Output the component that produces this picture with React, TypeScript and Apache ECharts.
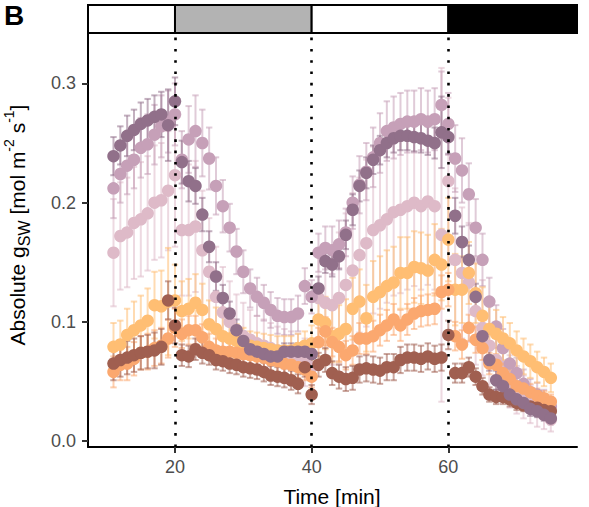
import React, { useEffect, useRef } from "react";
import * as echarts from "echarts";

// ---- data ----
const minutes = [
  11, 12, 13, 14, 15, 16, 17, 18, 19, 20,
  21, 22, 23, 24, 25, 26, 27, 28, 29, 30,
  31, 32, 33, 34, 35, 36, 37, 38, 39, 40,
  41, 42, 43, 44, 45, 46, 47, 48, 49, 50,
  51, 52, 53, 54, 55, 56, 57, 58, 59, 60,
  61, 62, 63, 64, 65, 66, 67, 68, 69, 70,
  71, 72, 73, 74, 75,
];

const darkPurple = [
  0.239, 0.248, 0.256, 0.261, 0.266, 0.269, 0.272, 0.274, 0.265, 0.285,
  0.234, 0.218, 0.214, 0.190, 0.163, 0.138, 0.120, 0.107, 0.093, 0.084,
  0.077, 0.075, 0.073, 0.071, 0.071, 0.075, 0.075, 0.075, 0.075, 0.073,
  0.128, 0.151, 0.148, 0.155, 0.173, 0.194, 0.214, 0.225, 0.236, 0.244,
  0.250, 0.254, 0.256, 0.256, 0.255, 0.254, 0.252, 0.250, 0.259, 0.255,
  0.189, 0.167, 0.152, 0.121, 0.088, 0.068, 0.051, 0.046, 0.039, 0.035,
  0.032, 0.027, 0.025, 0.022, 0.019,
];
const darkPurpleErr = [
  0.016, 0.016, 0.017, 0.017, 0.018, 0.018, 0.018, 0.019, 0.030, 0.020,
  0.018, 0.017, 0.015, 0.014, 0.013, 0.012, 0.011, 0.010, 0.009, 0.008,
  0.008, 0.007, 0.007, 0.007, 0.007, 0.007, 0.007, 0.007, 0.007, 0.008,
  0.010, 0.010, 0.010, 0.011, 0.012, 0.013, 0.013, 0.013, 0.012, 0.012,
  0.012, 0.012, 0.012, 0.012, 0.012, 0.012, 0.012, 0.013, 0.030, 0.014,
  0.015, 0.013, 0.012, 0.011, 0.010, 0.009, 0.008, 0.007, 0.007, 0.006,
  0.006, 0.006, 0.005, 0.005, 0.005,
];

const mauve = [
  0.212, 0.224, 0.231, 0.236, 0.246, 0.249, 0.257, 0.264, 0.268, 0.274,
  0.236, 0.253, 0.260, 0.250, 0.237, 0.214, 0.197, 0.179, 0.159, 0.142,
  0.128, 0.121, 0.116, 0.110, 0.105, 0.104, 0.104, 0.107, 0.130, 0.121,
  0.158, 0.162, 0.160, 0.165, 0.175, 0.200, 0.215, 0.226, 0.238, 0.250,
  0.260, 0.263, 0.266, 0.268, 0.268, 0.270, 0.268, 0.270, 0.282, 0.266,
  0.237, 0.227, 0.207, 0.179, 0.152, 0.117, 0.096, 0.078, 0.065, 0.057,
  0.048, 0.041, 0.039, 0.034, 0.029,
];
const mauveErr = [
  0.025, 0.024, 0.024, 0.024, 0.025, 0.025, 0.025, 0.026, 0.026, 0.026,
  0.024, 0.028, 0.030, 0.028, 0.026, 0.024, 0.022, 0.020, 0.019, 0.018,
  0.016, 0.016, 0.015, 0.015, 0.015, 0.015, 0.015, 0.015, 0.015, 0.014,
  0.016, 0.018, 0.020, 0.020, 0.020, 0.022, 0.024, 0.024, 0.025, 0.025,
  0.025, 0.026, 0.026, 0.026, 0.026, 0.026, 0.026, 0.026, 0.028, 0.026,
  0.028, 0.027, 0.026, 0.024, 0.022, 0.020, 0.018, 0.016, 0.014, 0.013,
  0.012, 0.011, 0.010, 0.009, 0.008,
];

const lightPink = [
  0.158, 0.172, 0.175, 0.183, 0.186, 0.191, 0.200, 0.202, 0.210, 0.223,
  0.177, 0.177, 0.180, 0.160, 0.142, 0.121, 0.108, 0.100, 0.093, 0.088,
  0.085, 0.082, 0.080, 0.078, 0.076, 0.074, 0.072, 0.070, 0.066, 0.062,
  0.120, 0.116, 0.114, 0.120, 0.131, 0.143, 0.156, 0.166, 0.177, 0.181,
  0.186, 0.192, 0.194, 0.197, 0.200, 0.197, 0.201, 0.197, 0.173, 0.218,
  0.152, 0.141, 0.133, 0.109, 0.095, 0.080, 0.068, 0.058, 0.050, 0.043,
  0.037, 0.031, 0.026, 0.022, 0.018,
];
const lightPinkErr = [
  0.045, 0.045, 0.046, 0.047, 0.048, 0.048, 0.048, 0.048, 0.050, 0.060,
  0.055, 0.055, 0.055, 0.050, 0.045, 0.042, 0.038, 0.034, 0.030, 0.028,
  0.025, 0.023, 0.022, 0.021, 0.020, 0.020, 0.020, 0.020, 0.020, 0.020,
  0.040, 0.045, 0.050, 0.055, 0.060, 0.065, 0.065, 0.070, 0.070, 0.070,
  0.070, 0.070, 0.070, 0.070, 0.070, 0.070, 0.070, 0.070, 0.140, 0.070,
  0.060, 0.055, 0.050, 0.045, 0.040, 0.035, 0.030, 0.025, 0.022, 0.020,
  0.018, 0.016, 0.014, 0.012, 0.010,
];

const lightOrange = [
  0.079, 0.081, 0.089, 0.093, 0.097, 0.101, 0.114, 0.113, 0.117, 0.118,
  0.109, 0.111, 0.116, 0.110, 0.098, 0.094, 0.088, 0.086, 0.084, 0.082,
  0.080, 0.079, 0.078, 0.077, 0.076, 0.076, 0.076, 0.078, 0.080, 0.082,
  0.102, 0.099, 0.088, 0.090, 0.094, 0.111, 0.117, 0.103, 0.121, 0.125,
  0.130, 0.133, 0.141, 0.141, 0.146, 0.145, 0.143, 0.152, 0.148, 0.169,
  0.127, 0.127, 0.141, 0.124, 0.105, 0.094, 0.090, 0.086, 0.082, 0.076,
  0.071, 0.067, 0.062, 0.058, 0.053,
];
const lightOrangeErr = [
  0.020, 0.020, 0.022, 0.024, 0.025, 0.027, 0.028, 0.030, 0.045, 0.030,
  0.025, 0.025, 0.024, 0.022, 0.020, 0.018, 0.016, 0.015, 0.014, 0.013,
  0.012, 0.012, 0.012, 0.012, 0.012, 0.012, 0.012, 0.012, 0.012, 0.015,
  0.020, 0.022, 0.022, 0.024, 0.025, 0.026, 0.027, 0.028, 0.030, 0.030,
  0.030, 0.030, 0.030, 0.030, 0.030, 0.030, 0.030, 0.030, 0.030, 0.035,
  0.030, 0.028, 0.026, 0.025, 0.024, 0.022, 0.020, 0.018, 0.017, 0.016,
  0.015, 0.014, 0.013, 0.012, 0.012,
];

const orange = [
  0.058, 0.064, 0.065, 0.069, 0.074, 0.075, 0.078, 0.080, 0.086, 0.095,
  0.090, 0.093, 0.093, 0.087, 0.079, 0.076, 0.075, 0.075, 0.074, 0.073,
  0.072, 0.071, 0.070, 0.068, 0.067, 0.065, 0.064, 0.062, 0.060, 0.054,
  0.083, 0.092, 0.083, 0.079, 0.072, 0.076, 0.086, 0.086, 0.088, 0.093,
  0.097, 0.102, 0.097, 0.102, 0.107, 0.109, 0.110, 0.111, 0.125, 0.127,
  0.088, 0.081, 0.095, 0.085, 0.078, 0.065, 0.064, 0.057, 0.052, 0.046,
  0.044, 0.041, 0.038, 0.036, 0.033,
];
const orangeErr = [
  0.013, 0.013, 0.014, 0.014, 0.014, 0.015, 0.015, 0.015, 0.016, 0.016,
  0.012, 0.012, 0.012, 0.011, 0.011, 0.010, 0.010, 0.010, 0.010, 0.010,
  0.009, 0.009, 0.009, 0.009, 0.009, 0.009, 0.009, 0.009, 0.009, 0.009,
  0.012, 0.012, 0.012, 0.012, 0.012, 0.012, 0.013, 0.013, 0.013, 0.013,
  0.013, 0.013, 0.013, 0.013, 0.013, 0.013, 0.013, 0.013, 0.014, 0.014,
  0.012, 0.012, 0.011, 0.011, 0.010, 0.009, 0.009, 0.008, 0.008, 0.007,
  0.007, 0.007, 0.006, 0.006, 0.006,
];

const brown = [
  0.065, 0.068, 0.070, 0.072, 0.074, 0.075, 0.076, 0.079, 0.118, 0.097,
  0.072, 0.071, 0.077, 0.074, 0.072, 0.068, 0.067, 0.065, 0.064, 0.062,
  0.061, 0.060, 0.058, 0.055, 0.054, 0.053, 0.051, 0.048, 0.062, 0.039,
  0.064, 0.068, 0.057, 0.054, 0.052, 0.053, 0.060, 0.061, 0.060, 0.059,
  0.062, 0.062, 0.068, 0.070, 0.070, 0.069, 0.071, 0.069, 0.070, 0.089,
  0.057, 0.057, 0.062, 0.054, 0.046, 0.039, 0.037, 0.037, 0.035, 0.032,
  0.030, 0.029, 0.028, 0.026, 0.025,
];
const brownErr = [
  0.014, 0.014, 0.014, 0.014, 0.014, 0.014, 0.015, 0.015, 0.016, 0.015,
  0.009, 0.009, 0.009, 0.009, 0.008, 0.008, 0.008, 0.008, 0.008, 0.008,
  0.008, 0.008, 0.008, 0.008, 0.008, 0.008, 0.008, 0.008, 0.008, 0.008,
  0.010, 0.010, 0.010, 0.010, 0.010, 0.010, 0.011, 0.011, 0.011, 0.011,
  0.011, 0.011, 0.011, 0.011, 0.011, 0.011, 0.011, 0.011, 0.011, 0.012,
  0.008, 0.008, 0.008, 0.007, 0.007, 0.006, 0.006, 0.006, 0.006, 0.006,
  0.005, 0.005, 0.005, 0.005, 0.005,
];

// light regime changes (minutes) and the regime of each segment
const phaseBoundaries = [20, 40, 60];
const phaseRegimes = ["light", "shade", "light", "dark"];

const yTicks = [0, 0.1, 0.2, 0.3];
const xTicks = [20, 40, 60];

// ---- styling ----
const X_MIN = 7.27;
const X_MAX = 78.83;
const Y_MIN = -0.005;
const Y_MAX = 0.3423;
const FONT = "'Liberation Sans', Arial, Helvetica, sans-serif";
const regimeFill: Record<string, string> = {
  light: "#FFFFFF",
  shade: "#B3B3B3",
  dark: "#000000",
};

// drawing order: later groups are drawn on top
const groups = [
  { name: "g3", vals: lightPink, errs: lightPinkErr, color: "#DEBAC8", bar: "rgba(222,186,200,0.55)" },
  { name: "g2", vals: mauve, errs: mauveErr, color: "#C6A0B8", bar: "rgba(198,160,184,0.55)" },
  { name: "g4", vals: lightOrange, errs: lightOrangeErr, color: "#FFBE73", bar: "rgba(255,190,115,0.55)" },
  { name: "g5", vals: orange, errs: orangeErr, color: "#FBA86F", bar: "rgba(251,168,111,0.55)" },
  { name: "g6", vals: brown, errs: brownErr, color: "#A05F50", bar: "rgba(160,95,80,0.55)" },
  { name: "g1", vals: darkPurple, errs: darkPurpleErr, color: "#91708A", bar: "rgba(145,112,138,0.55)" },
];

function buildOption() {
  const errSeries = groups.map((g) => ({
    type: "custom",
    name: g.name + "-err",
    xAxisIndex: 0,
    yAxisIndex: 0,
    z: 2,
    silent: true,
    data: minutes.map((m, i) => [m, g.vals[i] - g.errs[i], g.vals[i] + g.errs[i]]),
    encode: { x: 0, y: [1, 2] },
    renderItem: (_params: any, api: any) => {
      const x = api.value(0);
      const lo = api.coord([x, api.value(1)]);
      const hi = api.coord([x, api.value(2)]);
      const hw = 3.2;
      const style = { stroke: g.bar, lineWidth: 2, fill: "none" };
      return {
        type: "group",
        children: [
          { type: "line", shape: { x1: lo[0], y1: lo[1], x2: hi[0], y2: hi[1] }, style },
          { type: "line", shape: { x1: lo[0] - hw, y1: lo[1], x2: lo[0] + hw, y2: lo[1] }, style },
          { type: "line", shape: { x1: hi[0] - hw, y1: hi[1], x2: hi[0] + hw, y2: hi[1] }, style },
        ],
      };
    },
  }));

  const pointSeries = groups.map((g, idx) => ({
    type: "scatter",
    name: g.name,
    xAxisIndex: 0,
    yAxisIndex: 0,
    z: 3,
    symbol: "circle",
    symbolSize: 12.5,
    itemStyle: { color: g.color, opacity: 1 },
    data: minutes.map((m, i) => [m, g.vals[i]]),
    markLine:
      idx === groups.length - 1
        ? {
            silent: true,
            symbol: "none",
            z: 10,
            label: { show: false },
            lineStyle: { color: "#000", type: [2.6, 8.7], width: 2.6, cap: "butt" },
            data: phaseBoundaries.map((b) => ({ xAxis: b })),
          }
        : undefined,
  }));

  const starts = [X_MIN, ...phaseBoundaries];
  const ends = [...phaseBoundaries, X_MAX];
  const phaseSeries = {
    type: "custom",
    name: "regime",
    xAxisIndex: 1,
    yAxisIndex: 1,
    silent: true,
    data: phaseRegimes.map((r, i) => [starts[i], ends[i], r]),
    encode: { x: [0, 1] },
    renderItem: (_params: any, api: any) => {
      const a = api.coord([api.value(0), 1]);
      const b = api.coord([api.value(1), 0]);
      const regime = phaseRegimes[_params.dataIndex];
      return {
        type: "rect",
        shape: { x: a[0], y: a[1], width: b[0] - a[0], height: b[1] - a[1] },
        style: { fill: regimeFill[regime], stroke: "#000", lineWidth: 2 },
      };
    },
  };

  return {
    animation: false,
    backgroundColor: "#FFFFFF",
    textStyle: { fontFamily: FONT },
    grid: [
      { left: 88, right: 12, top: 33, bottom: 60, containLabel: false },
      { left: 88, right: 12, top: 5, height: 28, containLabel: false },
    ],
    xAxis: [
      {
        type: "value",
        gridIndex: 0,
        min: X_MIN,
        max: X_MAX,
        axisLine: { show: true, onZero: false, lineStyle: { color: "#000", width: 2 } },
        axisTick: { show: true, length: 6, customValues: xTicks, lineStyle: { color: "#333", width: 2 } },
        axisLabel: {
          show: true,
          customValues: xTicks,
          margin: 11,
          color: "#4D4D4D",
          fontSize: 18,
          fontFamily: FONT,
        },
        splitLine: { show: false },
      },
      {
        type: "value",
        gridIndex: 1,
        min: X_MIN,
        max: X_MAX,
        show: false,
      },
    ],
    yAxis: [
      {
        type: "value",
        gridIndex: 0,
        min: Y_MIN,
        max: Y_MAX,
        axisLine: { show: true, onZero: false, lineStyle: { color: "#000", width: 2 } },
        axisTick: { show: true, length: 6, customValues: yTicks, lineStyle: { color: "#333", width: 2 } },
        axisLabel: {
          show: true,
          customValues: yTicks,
          margin: 12,
          color: "#4D4D4D",
          fontSize: 18,
          fontFamily: FONT,
          formatter: (v: number) => v.toFixed(1),
        },
        splitLine: { show: false },
      },
      { type: "value", gridIndex: 1, min: 0, max: 1, show: false },
    ],
    graphic: [
      {
        type: "text",
        left: 4,
        top: 1,
        style: { text: "B", fontSize: 28, fontWeight: "bold", fontFamily: FONT, fill: "#000" },
      },
      {
        type: "text",
        x: 332,
        y: 496,
        style: {
          text: "Time [min]",
          fontSize: 21,
          fontFamily: FONT,
          fill: "#000",
          align: "center",
          verticalAlign: "middle",
        },
      },
      {
        type: "text",
        x: 17,
        y: 225,
        rotation: Math.PI / 2,
        style: {
          text: "Absolute g{sub|SW} [mol m{sup|-2} s{sup|-1}]",
          fontSize: 21,
          lineHeight: 30,
          fontFamily: FONT,
          fill: "#000",
          align: "center",
          verticalAlign: "middle",
          rich: {
            sub: { fontSize: 16, lineHeight: 18, verticalAlign: "bottom", fontFamily: FONT, fill: "#000" },
            sup: { fontSize: 14, lineHeight: 14, verticalAlign: "top", fontFamily: FONT, fill: "#000" },
          },
        },
      },
    ],
    series: [phaseSeries, ...errSeries, ...pointSeries],
  };
}

export default function App() {
  const ref = useRef<HTMLDivElement>(null);
  useEffect(() => {
    if (!ref.current) return;
    const chart = echarts.init(ref.current, null, { renderer: "svg" });
    chart.setOption(buildOption() as any);
    return () => chart.dispose();
  }, []);
  return (
    <div
      ref={ref}
      style={{ position: "fixed", left: 0, top: 0, width: 589, height: 507, background: "#fff" }}
    />
  );
}
